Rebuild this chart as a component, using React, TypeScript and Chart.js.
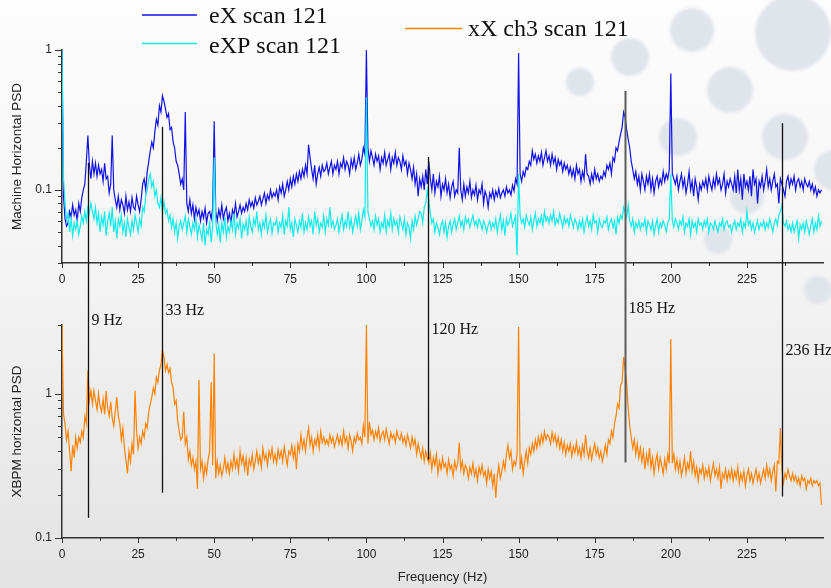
import React, { useEffect, useRef } from "react";
import { Chart, registerables } from "chart.js";

Chart.register(...registerables);

// ---------------- data ----------------
const FREQ_STEP = 0.5; // Hz between samples

const eX = [
  1.0, 0.09, 0.062, 0.055, 0.058, 0.07, 0.064, 0.078, 0.066, 0.072, 0.06, 0.08, 0.07, 0.088, 0.1, 0.11, 0.16, 0.245, 0.15, 0.12,
  0.16, 0.13, 0.155, 0.125, 0.15, 0.13, 0.14, 0.115, 0.155, 0.12, 0.125, 0.095, 0.11, 0.245, 0.1, 0.085, 0.075, 0.09, 0.072, 0.085,
  0.078, 0.068, 0.09, 0.072, 0.082, 0.07, 0.088, 0.075, 0.072, 0.09, 0.078, 0.07, 0.085, 0.11, 0.12, 0.1, 0.135, 0.16, 0.19, 0.22,
  0.2, 0.26, 0.32, 0.29, 0.4, 0.36, 0.47, 0.43, 0.38, 0.33, 0.35, 0.27, 0.28, 0.22, 0.2, 0.16, 0.15, 0.13, 0.11, 0.12,
  0.1, 0.36, 0.08, 0.07, 0.085, 0.068, 0.078, 0.062, 0.075, 0.066, 0.072, 0.06, 0.07, 0.063, 0.074, 0.058, 0.068, 0.07, 0.062, 0.074,
  0.31, 0.07, 0.06, 0.072, 0.064, 0.078, 0.062, 0.07, 0.075, 0.06, 0.068, 0.058, 0.072, 0.066, 0.08, 0.064, 0.07, 0.078, 0.068, 0.075,
  0.07, 0.08, 0.072, 0.085, 0.076, 0.082, 0.074, 0.088, 0.078, 0.083, 0.09, 0.078, 0.086, 0.095, 0.08, 0.092, 0.085, 0.1, 0.088, 0.095,
  0.09, 0.1, 0.085, 0.105, 0.095, 0.11, 0.09, 0.1, 0.115, 0.1, 0.12, 0.105, 0.125, 0.11, 0.13, 0.115, 0.135, 0.12, 0.14, 0.125,
  0.15, 0.13, 0.21, 0.17, 0.14, 0.12, 0.15, 0.11, 0.13, 0.145, 0.125, 0.15, 0.135, 0.14, 0.155, 0.13, 0.145, 0.16, 0.13, 0.15,
  0.14, 0.16, 0.13, 0.155, 0.145, 0.17, 0.14, 0.16, 0.15, 0.13, 0.165, 0.145, 0.17, 0.14, 0.155, 0.18, 0.15, 0.165, 0.2, 0.18,
  1.0, 0.2, 0.16, 0.19, 0.17, 0.15, 0.18, 0.16, 0.175, 0.14, 0.17, 0.155, 0.185, 0.15, 0.165, 0.18, 0.14, 0.17, 0.155, 0.185,
  0.15, 0.17, 0.16, 0.14, 0.175, 0.15, 0.16, 0.13, 0.155, 0.14, 0.12, 0.145, 0.11, 0.13, 0.09, 0.12, 0.105, 0.125, 0.1, 0.14,
  0.11, 0.16, 0.12, 0.1, 0.13, 0.095, 0.115, 0.105, 0.125, 0.09, 0.11, 0.1, 0.12, 0.095, 0.11, 0.088, 0.105, 0.115, 0.09, 0.1,
  0.095, 0.2, 0.1, 0.085, 0.11, 0.09, 0.105, 0.095, 0.115, 0.088, 0.1, 0.092, 0.108, 0.085, 0.1, 0.094, 0.11, 0.08, 0.098, 0.09,
  0.075, 0.095, 0.088, 0.1, 0.085, 0.098, 0.09, 0.102, 0.088, 0.095, 0.1, 0.09, 0.105, 0.095, 0.1, 0.092, 0.108, 0.098, 0.12, 0.11,
  0.95, 0.13, 0.115, 0.135, 0.125, 0.145, 0.14, 0.16, 0.15, 0.19, 0.165, 0.18, 0.155, 0.175, 0.16, 0.185, 0.15, 0.17, 0.19, 0.16,
  0.175, 0.15, 0.18, 0.155, 0.17, 0.14, 0.165, 0.15, 0.16, 0.135, 0.155, 0.14, 0.15, 0.13, 0.145, 0.125, 0.14, 0.12, 0.15, 0.13,
  0.14, 0.115, 0.135, 0.12, 0.18, 0.13, 0.125, 0.11, 0.13, 0.115, 0.14, 0.12, 0.13, 0.115, 0.125, 0.12, 0.135, 0.125, 0.15, 0.14,
  0.155, 0.13, 0.17, 0.16, 0.2, 0.19, 0.22, 0.25, 0.28, 0.36, 0.33, 0.27, 0.23, 0.2, 0.16, 0.14, 0.12, 0.135, 0.11, 0.125,
  0.1, 0.13, 0.115, 0.1, 0.125, 0.11, 0.13, 0.1, 0.12, 0.095, 0.115, 0.125, 0.105, 0.12, 0.11, 0.135, 0.115, 0.13, 0.12, 0.14,
  0.68, 0.13, 0.12, 0.11, 0.125, 0.1, 0.115, 0.13, 0.105, 0.12, 0.095, 0.11, 0.135, 0.1, 0.115, 0.09, 0.12, 0.105, 0.085, 0.11,
  0.1, 0.115, 0.105, 0.12, 0.1, 0.125, 0.11, 0.1, 0.12, 0.105, 0.13, 0.11, 0.12, 0.1, 0.11, 0.13, 0.095, 0.115, 0.105, 0.12,
  0.11, 0.1, 0.125, 0.095, 0.14, 0.1, 0.12, 0.085, 0.13, 0.105, 0.115, 0.1, 0.125, 0.09, 0.14, 0.11, 0.12, 0.08, 0.115, 0.105,
  0.125, 0.1, 0.115, 0.14, 0.105, 0.12, 0.1, 0.115, 0.13, 0.105, 0.11, 0.08, 0.12, 0.11, 0.1, 0.09, 0.115, 0.125, 0.105, 0.12,
  0.11, 0.125, 0.1, 0.115, 0.12, 0.105, 0.115, 0.1, 0.12, 0.11, 0.105, 0.115, 0.1, 0.11, 0.095, 0.105, 0.09, 0.1, 0.095, 0.1,
];

const eXP = [
  1.0, 0.12, 0.08, 0.06, 0.068, 0.05, 0.062, 0.047, 0.058, 0.052, 0.06, 0.048, 0.055, 0.065, 0.058, 0.07, 0.06, 0.075, 0.068, 0.08,
  0.07, 0.062, 0.075, 0.058, 0.068, 0.05, 0.064, 0.056, 0.07, 0.047, 0.06, 0.068, 0.055, 0.075, 0.05, 0.06, 0.045, 0.062, 0.055, 0.066,
  0.05, 0.058, 0.046, 0.062, 0.054, 0.048, 0.06, 0.052, 0.066, 0.058, 0.05, 0.062, 0.055, 0.075, 0.07, 0.09, 0.1, 0.12, 0.13, 0.105,
  0.115, 0.09, 0.1, 0.08, 0.075, 0.088, 0.07, 0.082, 0.068, 0.072, 0.06, 0.066, 0.054, 0.062, 0.05, 0.058, 0.045, 0.055, 0.06, 0.052,
  0.058, 0.065, 0.05, 0.062, 0.055, 0.048, 0.058, 0.052, 0.062, 0.046, 0.056, 0.05, 0.044, 0.058, 0.04, 0.052, 0.048, 0.06, 0.042, 0.055,
  0.17, 0.06, 0.048, 0.056, 0.042, 0.058, 0.05, 0.064, 0.046, 0.055, 0.05, 0.06, 0.052, 0.068, 0.048, 0.058, 0.053, 0.062, 0.045, 0.057,
  0.052, 0.06, 0.047, 0.064, 0.055, 0.05, 0.062, 0.056, 0.07, 0.052, 0.058, 0.048, 0.06, 0.054, 0.066, 0.05, 0.057, 0.062, 0.049, 0.058,
  0.056, 0.062, 0.05, 0.058, 0.054, 0.066, 0.048, 0.06, 0.055, 0.075, 0.052, 0.058, 0.046, 0.062, 0.056, 0.05, 0.06, 0.054, 0.068, 0.05,
  0.058, 0.052, 0.064, 0.055, 0.06, 0.048, 0.07, 0.056, 0.062, 0.05, 0.058, 0.054, 0.065, 0.05, 0.062, 0.056, 0.075, 0.055, 0.06, 0.052,
  0.056, 0.062, 0.05, 0.058, 0.066, 0.052, 0.06, 0.055, 0.07, 0.054, 0.062, 0.05, 0.058, 0.065, 0.055, 0.068, 0.052, 0.06, 0.072, 0.064,
  0.46, 0.07, 0.062, 0.055, 0.06, 0.052, 0.065, 0.056, 0.062, 0.05, 0.058, 0.054, 0.066, 0.05, 0.06, 0.055, 0.068, 0.052, 0.062, 0.056,
  0.06, 0.05, 0.064, 0.058, 0.052, 0.062, 0.048, 0.058, 0.054, 0.045, 0.06, 0.052, 0.065, 0.056, 0.062, 0.07, 0.068, 0.058, 0.075, 0.08,
  0.1, 0.085, 0.068, 0.058, 0.062, 0.05, 0.058, 0.054, 0.048, 0.056, 0.06, 0.05, 0.058, 0.046, 0.055, 0.06, 0.05, 0.057, 0.062, 0.052,
  0.058, 0.065, 0.055, 0.06, 0.052, 0.064, 0.058, 0.062, 0.054, 0.06, 0.066, 0.056, 0.06, 0.054, 0.062, 0.058, 0.052, 0.06, 0.056, 0.05,
  0.056, 0.06, 0.052, 0.058, 0.054, 0.062, 0.05, 0.058, 0.066, 0.052, 0.06, 0.047, 0.062, 0.056, 0.06, 0.068, 0.055, 0.06, 0.065, 0.034,
  0.13, 0.065, 0.058, 0.062, 0.054, 0.066, 0.06, 0.056, 0.064, 0.052, 0.06, 0.068, 0.055, 0.062, 0.058, 0.065, 0.056, 0.07, 0.06, 0.064,
  0.058, 0.066, 0.06, 0.07, 0.056, 0.062, 0.058, 0.068, 0.06, 0.054, 0.064, 0.058, 0.062, 0.055, 0.066, 0.06, 0.054, 0.062, 0.058, 0.052,
  0.06, 0.054, 0.062, 0.05, 0.058, 0.064, 0.055, 0.06, 0.052, 0.066, 0.058, 0.06, 0.05, 0.062, 0.056, 0.054, 0.06, 0.058, 0.064, 0.052,
  0.058, 0.062, 0.054, 0.06, 0.048, 0.064, 0.058, 0.066, 0.062, 0.075, 0.07, 0.064, 0.078, 0.06, 0.055, 0.062, 0.05, 0.058, 0.054, 0.06,
  0.052, 0.058, 0.055, 0.062, 0.05, 0.06, 0.056, 0.052, 0.06, 0.048, 0.055, 0.062, 0.05, 0.058, 0.054, 0.06, 0.056, 0.05, 0.058, 0.062,
  0.13, 0.06, 0.054, 0.062, 0.058, 0.052, 0.06, 0.056, 0.064, 0.05, 0.058, 0.055, 0.062, 0.048, 0.06, 0.054, 0.058, 0.05, 0.062, 0.056,
  0.058, 0.052, 0.06, 0.055, 0.062, 0.05, 0.058, 0.056, 0.052, 0.06, 0.054, 0.05, 0.058, 0.055, 0.062, 0.052, 0.058, 0.06, 0.054, 0.056,
  0.05, 0.056, 0.06, 0.052, 0.058, 0.055, 0.062, 0.05, 0.058, 0.054, 0.07, 0.056, 0.06, 0.052, 0.058, 0.05, 0.055, 0.06, 0.052, 0.058,
  0.055, 0.06, 0.052, 0.058, 0.054, 0.062, 0.056, 0.05, 0.058, 0.062, 0.056, 0.066, 0.07, 0.078, 0.058, 0.055, 0.06, 0.052, 0.056, 0.05,
  0.058, 0.05, 0.055, 0.06, 0.045, 0.056, 0.052, 0.058, 0.05, 0.06, 0.054, 0.048, 0.056, 0.062, 0.05, 0.058, 0.052, 0.065, 0.055, 0.06,
];

const xXch3 = [
  3.0, 0.72, 0.62, 0.48, 0.55, 0.4, 0.29, 0.44, 0.36, 0.5, 0.42, 0.5, 0.46, 0.55, 0.5, 0.7, 0.62, 1.45, 0.9, 1.05,
  0.85, 1.05, 0.9, 0.78, 1.0, 0.82, 0.75, 0.92, 0.72, 1.05, 0.8, 0.7, 0.88, 0.68, 0.6, 0.75, 0.95, 0.7, 0.62, 0.48,
  0.58, 0.42, 0.35, 0.28, 0.4, 0.34, 0.45, 0.38, 1.05, 0.55, 0.42, 0.5, 0.45, 0.55, 0.5, 0.62, 0.58, 0.75, 0.85, 0.95,
  1.1, 1.0, 1.3, 1.2, 1.45, 1.6, 2.0, 1.8, 1.45, 1.6, 1.4, 1.5, 1.2, 1.1, 0.85, 0.9, 0.65, 0.55, 0.48, 0.5,
  0.75, 0.45, 0.5, 0.35, 0.4, 0.32, 0.36, 0.3, 0.34, 0.22, 1.25, 0.3, 0.34, 0.26, 0.32, 0.28, 0.35, 0.4, 1.2, 0.32,
  1.9, 0.26, 0.34, 0.28, 0.32, 0.27, 0.3, 0.36, 0.29, 0.33, 0.28, 0.34, 0.3, 0.38, 0.31, 0.35, 0.29, 0.4, 0.33, 0.37,
  0.3, 0.36, 0.27, 0.35, 0.32, 0.38, 0.3, 0.34, 0.4, 0.33, 0.37, 0.31, 0.42, 0.35, 0.38, 0.32, 0.4, 0.36, 0.42, 0.34,
  0.38, 0.33, 0.41, 0.36, 0.4, 0.34, 0.43, 0.37, 0.32, 0.4, 0.38, 0.44, 0.36, 0.42, 0.3, 0.45, 0.4, 0.52, 0.42, 0.48,
  0.4, 0.5, 0.58, 0.44, 0.5, 0.4, 0.48, 0.44, 0.52, 0.42, 0.55, 0.46, 0.5, 0.45, 0.48, 0.44, 0.52, 0.46, 0.5, 0.43,
  0.47, 0.52, 0.45, 0.5, 0.44, 0.55, 0.46, 0.5, 0.42, 0.52, 0.47, 0.4, 0.5, 0.46, 0.53, 0.48, 0.5, 0.45, 0.6, 0.5,
  3.0, 0.45, 0.64, 0.52, 0.56, 0.48, 0.55, 0.5, 0.58, 0.47, 0.52, 0.55, 0.48, 0.57, 0.5, 0.45, 0.54, 0.49, 0.52, 0.46,
  0.55, 0.5, 0.48, 0.53, 0.46, 0.5, 0.44, 0.52, 0.47, 0.42, 0.5, 0.44, 0.48, 0.38, 0.45, 0.4, 0.36, 0.42, 0.34, 0.4,
  0.36, 0.33, 0.39, 0.3, 0.36, 0.32, 0.38, 0.28, 0.34, 0.3, 0.36, 0.31, 0.33, 0.28, 0.35, 0.3, 0.32, 0.27, 0.34, 0.3,
  0.33, 0.46, 0.3, 0.34, 0.28, 0.32, 0.3, 0.26, 0.31, 0.28, 0.33, 0.27, 0.3, 0.25, 0.31, 0.28, 0.32, 0.27, 0.29, 0.24,
  0.3, 0.26, 0.29, 0.23, 0.28, 0.19, 0.27, 0.32, 0.26, 0.29, 0.34, 0.3, 0.38, 0.44, 0.36, 0.4, 0.3, 0.34, 0.32, 0.38,
  2.9, 0.3, 0.36, 0.28, 0.34, 0.4, 0.33, 0.42, 0.38, 0.45, 0.4, 0.48, 0.42, 0.5, 0.44, 0.52, 0.46, 0.55, 0.48, 0.52,
  0.5, 0.45, 0.54, 0.47, 0.52, 0.44, 0.5, 0.42, 0.48, 0.4, 0.46, 0.38, 0.44, 0.4, 0.45, 0.37, 0.43, 0.39, 0.46, 0.38,
  0.42, 0.36, 0.44, 0.38, 0.52, 0.4, 0.36, 0.42, 0.35, 0.4, 0.45, 0.38, 0.42, 0.36, 0.4, 0.34, 0.38, 0.44, 0.38, 0.48,
  0.45, 0.55, 0.5, 0.62, 0.7, 0.85, 0.8, 1.15, 1.2, 1.8, 1.5, 1.2, 0.8, 0.6, 0.5, 0.42, 0.48, 0.38, 0.45, 0.36,
  0.42, 0.34, 0.4, 0.3, 0.38, 0.33, 0.42, 0.31, 0.36, 0.28, 0.34, 0.38, 0.3, 0.36, 0.32, 0.28, 0.35, 0.3, 0.38, 0.33,
  2.4, 0.33, 0.38, 0.3, 0.35, 0.29, 0.34, 0.27, 0.31, 0.36, 0.28, 0.33, 0.3, 0.4, 0.29, 0.34, 0.27, 0.31, 0.25, 0.3,
  0.28, 0.32, 0.26, 0.3, 0.27, 0.31, 0.25, 0.29, 0.33, 0.27, 0.3, 0.26, 0.31, 0.22, 0.28, 0.26, 0.3, 0.25, 0.29, 0.26,
  0.3, 0.25, 0.29, 0.26, 0.31, 0.24, 0.28, 0.25, 0.29, 0.23, 0.27, 0.3, 0.25, 0.28, 0.24, 0.27, 0.3, 0.25, 0.28, 0.24,
  0.27, 0.3, 0.26, 0.32, 0.27, 0.3, 0.25, 0.29, 0.32, 0.21, 0.34, 0.33, 0.58, 0.3, 0.24, 0.28, 0.26, 0.3, 0.27, 0.25,
  0.28, 0.25, 0.27, 0.24, 0.26, 0.23, 0.27, 0.25, 0.26, 0.22, 0.25, 0.24, 0.26, 0.23, 0.25, 0.24, 0.25, 0.23, 0.24, 0.17,
];

const seriesLabels = ["eX scan 121", "eXP scan 121", "xX ch3 scan 121"];

const xTickValues = [0, 25, 50, 75, 100, 125, 150, 175, 200, 225];
const xMinorTickValues = [12.5, 37.5, 62.5, 87.5, 112.5, 137.5, 162.5, 187.5, 212.5, 237.5];
const yTickValues = [0.1, 1];

// marker lines (frequency, label, where they start in the top panel, end in the bottom panel, label level)
const markerFreqs = [8.4, 32.7, 120.2, 185.1, 236.4];
const markerLabels = ["9 Hz", "33 Hz", "120 Hz", "185 Hz", "236 Hz"];
const markerTopStart = [0.156, 0.282, 0.172, 0.51, 0.3];
const markerBottomEnd = [0.138, 0.206, 0.35, 0.334, 0.194];
const markerLabelLevel = [3.0, 3.5, 2.58, 3.61, 1.85];

// ---------------- styles ----------------
const BLUE = "#1212e6";
const CYAN = "#10ecec";
const ORANGE = "#ff8200";
const AXIS = "#333333";
const TEXT = "#222222";
const SANS = "'Liberation Sans', Arial, sans-serif";
const SERIF = "'Liberation Serif', 'Times New Roman', serif";

const bubbles = [
  { x: 580, y: 82, r: 14 },
  { x: 630, y: 57, r: 19 },
  { x: 692, y: 30, r: 22 },
  { x: 730, y: 90, r: 23 },
  { x: 793, y: 33, r: 38 },
  { x: 678, y: 137, r: 19 },
  { x: 785, y: 137, r: 23 },
  { x: 834, y: 170, r: 20 },
  { x: 747, y: 197, r: 17 },
  { x: 718, y: 240, r: 14 },
  { x: 818, y: 290, r: 14 },
];

const toPoints = (vals: number[]) => vals.map((v, i) => ({ x: i * FREQ_STEP, y: v }));

// ---------------- plugins ----------------
const tickMarksPlugin = {
  id: "tickMarks",
  afterDraw(chart: any) {
    const { ctx, chartArea } = chart;
    const xs = chart.scales.x;
    const ys = chart.scales.y;
    ctx.save();
    ctx.strokeStyle = AXIS;
    ctx.lineWidth = 1;
    const line = (x0: number, y0: number, x1: number, y1: number) => {
      ctx.beginPath();
      ctx.moveTo(x0, y0);
      ctx.lineTo(x1, y1);
      ctx.stroke();
    };
    const by = chartArea.bottom;
    xTickValues.forEach((v) => {
      const px = Math.round(xs.getPixelForValue(v)) + 0.5;
      line(px, by, px, by + 5);
    });
    xMinorTickValues.forEach((v) => {
      const px = Math.round(xs.getPixelForValue(v)) + 0.5;
      line(px, by, px, by + 3);
    });
    const lx = chartArea.left;
    const lo = ys.min;
    const hi = ys.max;
    for (let e = Math.floor(Math.log10(lo)); e <= Math.ceil(Math.log10(hi)); e++) {
      for (let m = 1; m <= 9; m++) {
        const v = m * Math.pow(10, e);
        if (v < lo * 0.999 || v > hi * 1.001) continue;
        const py = Math.round(ys.getPixelForValue(v)) + 0.5;
        line(lx - (m === 1 ? 7 : 4), py, lx, py);
      }
    }
    ctx.restore();
  },
};

const markerPlugin = {
  id: "markers",
  afterDatasetsDraw(chart: any, _args: any, opts: any) {
    const { ctx } = chart;
    const xs = chart.scales.x;
    const ys = chart.scales.y;
    ctx.save();
    markerFreqs.forEach((f, i) => {
      const px = Math.round(xs.getPixelForValue(f)) + 0.5;
      const isGray = markerLabels[i] === "185 Hz";
      ctx.strokeStyle = isGray ? "#5a5a5a" : "#111111";
      ctx.lineWidth = isGray ? 2 : 1.3;
      let y0: number, y1: number;
      if (opts.part === "top") {
        y0 = ys.getPixelForValue(markerTopStart[i]);
        y1 = chart.height;
      } else {
        y0 = 0;
        y1 = ys.getPixelForValue(markerBottomEnd[i]);
      }
      ctx.beginPath();
      ctx.moveTo(px, y0);
      ctx.lineTo(px, y1);
      ctx.stroke();
      if (opts.part === "bottom") {
        ctx.fillStyle = "#111111";
        ctx.font = `16px ${SERIF}`;
        ctx.textAlign = "left";
        ctx.textBaseline = "alphabetic";
        ctx.fillText(markerLabels[i], px + 3, ys.getPixelForValue(markerLabelLevel[i]));
      }
    });
    ctx.restore();
  },
};

const legendPlugin = {
  id: "customLegend",
  afterDraw(chart: any, _args: any, opts: any) {
    const { ctx } = chart;
    ctx.save();
    (opts.items || []).forEach((it: any) => {
      ctx.strokeStyle = it.color;
      ctx.lineWidth = 1.5;
      ctx.beginPath();
      ctx.moveTo(it.x0, it.ly);
      ctx.lineTo(it.x1, it.ly);
      ctx.stroke();
      ctx.fillStyle = "#111111";
      ctx.font = `24px ${SERIF}`;
      ctx.textAlign = "left";
      ctx.textBaseline = "alphabetic";
      ctx.fillText(it.label, it.tx, it.ty);
    });
    ctx.restore();
  },
};

function makeScales(isTop: boolean) {
  return {
    x: {
      type: "linear",
      min: 0,
      max: 250,
      afterBuildTicks: (s: any) => {
        s.ticks = xTickValues.map((v) => ({ value: v }));
      },
      afterFit: (s: any) => {
        s.height = isTop ? 27 : 50;
      },
      grid: { display: false, drawTicks: false },
      border: { display: true, color: AXIS, width: 1.5 },
      ticks: {
        autoSkip: false,
        maxRotation: 0,
        padding: 9,
        color: TEXT,
        font: { family: SANS, size: 12 },
        callback: (v: any) => String(v),
      },
      title: isTop
        ? { display: false }
        : {
            display: true,
            text: "Frequency (Hz)",
            color: TEXT,
            font: { family: SANS, size: 13 },
            padding: { top: 0, bottom: 3 },
          },
    },
    y: {
      type: "logarithmic",
      min: isTop ? 0.03 : 0.1,
      max: isTop ? 1 : 3,
      afterBuildTicks: (s: any) => {
        s.ticks = yTickValues.map((v) => ({ value: v }));
      },
      afterFit: (s: any) => {
        s.width = 62;
      },
      grid: { display: false, drawTicks: false },
      border: { display: true, color: AXIS, width: 1.5 },
      ticks: {
        padding: 10,
        color: TEXT,
        font: { family: SANS, size: 12 },
        callback: (v: any) => String(v),
      },
      title: {
        display: true,
        text: isTop ? "Machine Horizontal PSD" : "XBPM horizontal PSD",
        color: TEXT,
        font: { family: SANS, size: 13.5 },
        padding: { top: 9, bottom: 0 },
      },
    },
  };
}

export default function App() {
  const topRef = useRef<HTMLCanvasElement>(null);
  const botRef = useRef<HTMLCanvasElement>(null);

  useEffect(() => {
    const topChart = new Chart(topRef.current as HTMLCanvasElement, {
      type: "line",
      data: {
        datasets: [
          {
            label: seriesLabels[0],
            data: toPoints(eX),
            borderColor: BLUE,
            borderWidth: 1.2,
            pointRadius: 0,
            order: 2,
          },
          {
            label: seriesLabels[1],
            data: toPoints(eXP),
            borderColor: CYAN,
            borderWidth: 1.2,
            pointRadius: 0,
            order: 1,
          },
        ],
      },
      options: {
        responsive: false,
        animation: false,
        layout: { padding: { top: 50, right: 8, left: 0, bottom: 0 } },
        scales: makeScales(true) as any,
        plugins: {
          legend: { display: false },
          tooltip: { enabled: false },
          markers: { part: "top" },
          customLegend: {
            items: [
              { label: seriesLabels[0], color: BLUE, x0: 142, x1: 197, ly: 15, tx: 209, ty: 23 },
              { label: seriesLabels[1], color: CYAN, x0: 142, x1: 197, ly: 43.5, tx: 209, ty: 53 },
              { label: seriesLabels[2], color: ORANGE, x0: 405, x1: 462, ly: 28.5, tx: 468, ty: 36 },
            ],
          },
        } as any,
      },
      plugins: [tickMarksPlugin, markerPlugin, legendPlugin],
    } as any);

    const botChart = new Chart(botRef.current as HTMLCanvasElement, {
      type: "line",
      data: {
        datasets: [
          {
            label: seriesLabels[2],
            data: toPoints(xXch3),
            borderColor: ORANGE,
            borderWidth: 1.2,
            pointRadius: 0,
          },
        ],
      },
      options: {
        responsive: false,
        animation: false,
        layout: { padding: { top: 35, right: 8, left: 0, bottom: 0 } },
        scales: makeScales(false) as any,
        plugins: {
          legend: { display: false },
          tooltip: { enabled: false },
          markers: { part: "bottom" },
        } as any,
      },
      plugins: [tickMarksPlugin, markerPlugin],
    } as any);

    return () => {
      topChart.destroy();
      botChart.destroy();
    };
  }, []);

  return (
    <div
      style={{
        position: "absolute",
        left: 0,
        top: 0,
        width: 831,
        height: 588,
        overflow: "hidden",
        background: "linear-gradient(to bottom, #fdfdfd 0%, #f4f4f4 45%, #e3e3e3 100%)",
      }}
    >
      {bubbles.map((b, i) => (
        <div
          key={i}
          style={{
            position: "absolute",
            left: b.x - b.r,
            top: b.y - b.r,
            width: b.r * 2,
            height: b.r * 2,
            borderRadius: "50%",
            background: "#e0e4eb",
            filter: "blur(1.5px)",
          }}
        />
      ))}
      <canvas ref={topRef} width={831} height={290} style={{ position: "absolute", left: 0, top: 0 }} />
      <canvas ref={botRef} width={831} height={298} style={{ position: "absolute", left: 0, top: 290 }} />
    </div>
  );
}
